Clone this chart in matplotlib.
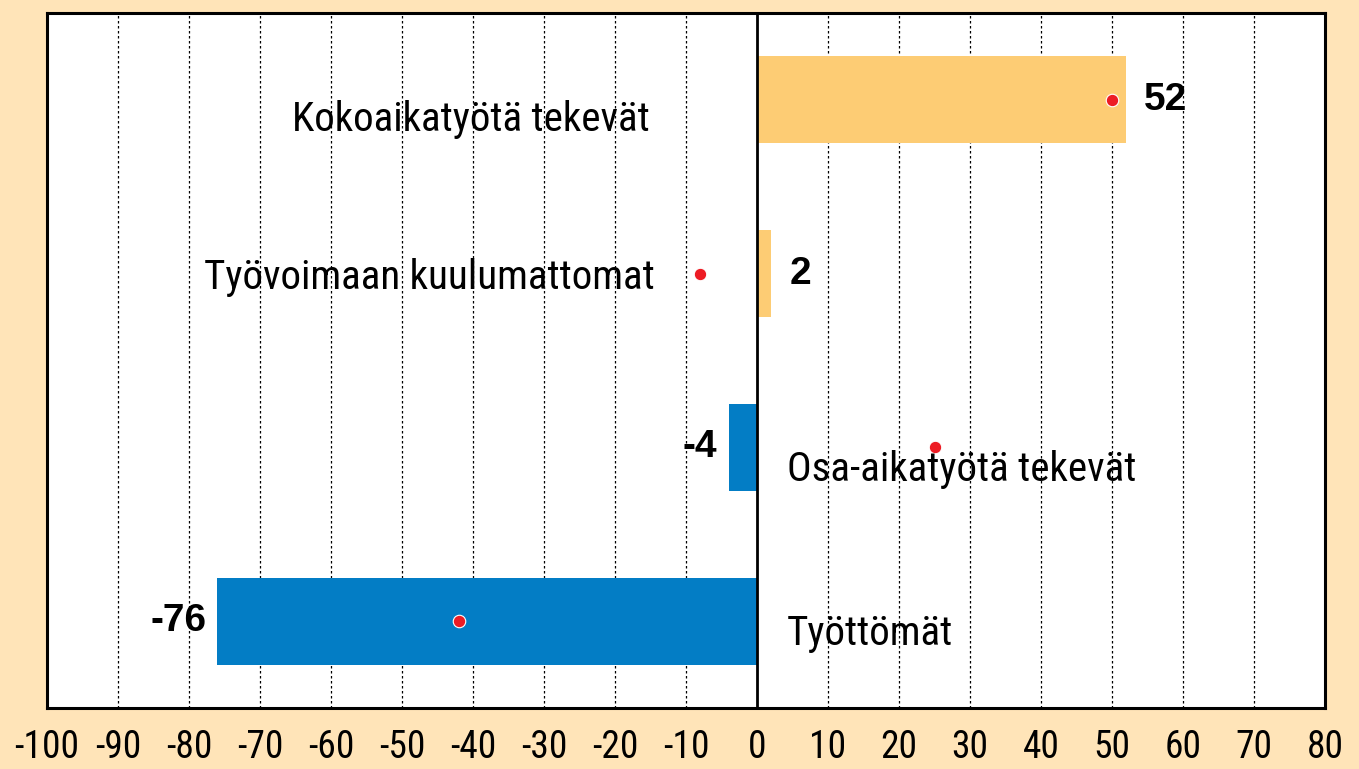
import matplotlib
matplotlib.use("Agg")
import matplotlib.pyplot as plt
from matplotlib import font_manager
from matplotlib.font_manager import FontProperties

categories = ["Kokoaikatyötä tekevät", "Työvoimaan kuulumattomat",
              "Osa-aikatyötä tekevät", "Työttömät"]
values = [52, 2, -4, -76]
dots = [50, -8, 25, -42]
xticks = list(range(-100, 81, 10))


def find_condensed():
    cands = []
    for f in font_manager.fontManager.ttflist:
        nm = f.name.lower()
        fn = f.fname.lower()
        st = str(f.stretch).lower()
        if f.style != "normal":
            continue
        w = f.weight if isinstance(f.weight, int) else 400
        if w != 400:
            continue
        cond = ("narrow" in nm or "condensed" in nm or "narrow" in fn
                or "condensed" in fn or st in ("condensed", "semi-condensed",
                                               "extra-condensed"))
        if not cond:
            continue
        if "bold" in fn or "oblique" in fn or "italic" in fn or "light" in fn:
            continue
        if "liberation" in fn:
            pr = 0
        elif "roboto" in fn:
            pr = 1
        elif "opensans" in fn or "open" in fn:
            pr = 2
        elif "dejavu" in fn and "mono" not in fn and "serif" not in fn:
            pr = 3
        else:
            pr = 4
        cands.append((pr, f.fname))
    cands.sort()
    if cands:
        return FontProperties(fname=cands[0][1])
    return FontProperties(family="Liberation Sans")


cond_fp = find_condensed()

BG = "#FFE4B8"
ORANGE = "#FDCC74"
BLUE = "#037DC5"
RED = "#ED1C24"

fig = plt.figure(figsize=(13.59, 7.69), dpi=100, facecolor=BG)
ax = fig.add_axes([47/1359, 1-708/769, (1325-47)/1359, (708-13)/769])
ax.set_facecolor("white")

ypos = list(range(len(categories)))
colors = [ORANGE if v >= 0 else BLUE for v in values]
ax.barh(ypos, values, height=0.5, color=colors, zorder=2)
ax.plot(dots, ypos, "o", color=RED, markersize=9, markeredgecolor="white",
        markeredgewidth=0.8, zorder=4)

ax.set_xlim(-100, 80)
ax.set_ylim(3.5, -0.5)
ax.set_xticks(xticks)
tick_fp = cond_fp.copy()
tick_fp.set_size(27)
ax.set_xticklabels([str(t) for t in xticks], fontproperties=tick_fp)
ax.tick_params(axis="x", length=0, pad=15)
ax.set_yticks([])
for t in xticks:
    if t != 0:
        ax.axvline(t, color="black", linestyle=(0, (2, 2)), linewidth=0.9, zorder=1)
ax.axvline(0, color="black", linewidth=2, zorder=3)

for s in ax.spines.values():
    s.set_linewidth(2.2)
    s.set_color("black")

# value labels
for i, v in enumerate(values):
    if v >= 0:
        ax.annotate(str(v), (v, i), xytext=(13, 0), textcoords="offset points",
                    ha="left", va="center", fontsize=28, fontweight="bold",
                    fontfamily="Liberation Sans")
    else:
        ax.annotate(str(v), (v, i), xytext=(-8, 0), textcoords="offset points",
                    ha="right", va="center", fontsize=28, fontweight="bold",
                    fontfamily="Liberation Sans")

# category labels
lab_fp = cond_fp.copy()
lab_fp.set_size(29.5)
label_pos = [(-15.1, 0.115, "right"), (-14.4, 0.02, "right"),
             (4.2, 0.13, "left"), (4.2, 0.07, "left")]
for cat, (x, dy, ha), i in zip(categories, label_pos, ypos):
    ax.text(x, i + dy, cat, ha=ha, va="center", fontproperties=lab_fp, zorder=5)

fig.savefig("out.png", dpi=100, facecolor=BG)
